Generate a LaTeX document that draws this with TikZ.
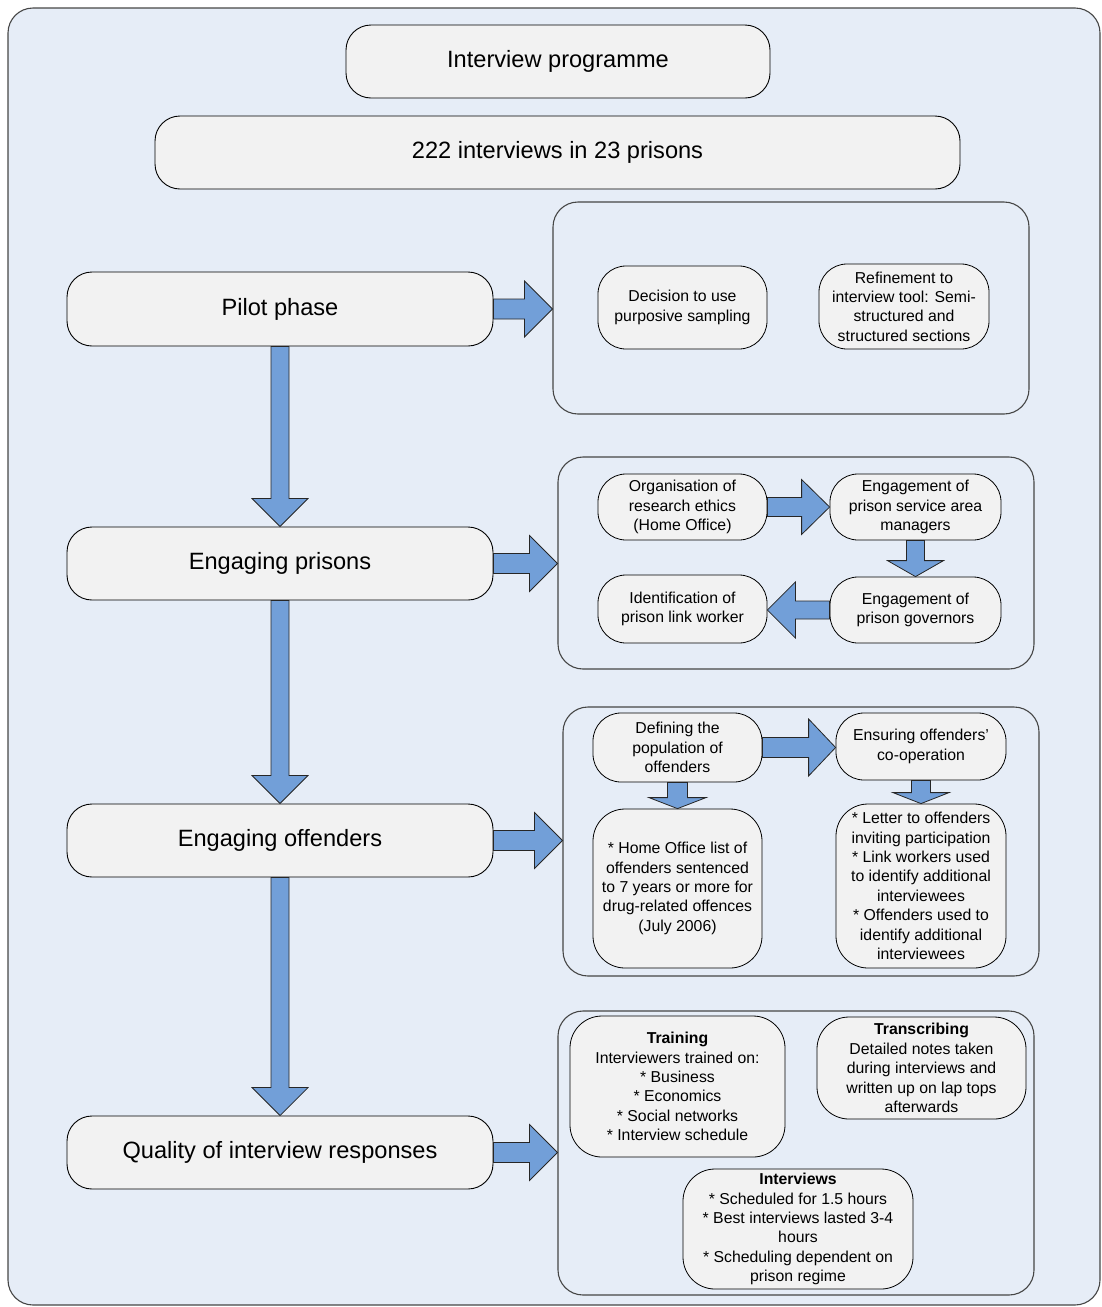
\documentclass[tikz,border=0pt]{standalone}
\usepackage{fontspec}
\setmainfont{Liberation Sans}
\usetikzlibrary{calc}

\definecolor{bgblue}{RGB}{230,237,247}
\definecolor{boxgray}{RGB}{242,242,242}
\definecolor{arrowblue}{RGB}{114,159,216}
\definecolor{edgegray}{RGB}{70,70,70}

\tikzset{
  stage/.style={draw=black, fill=boxgray, rounded corners=25pt, line width=0.9pt,
    inner sep=0pt, align=center, font=\fontsize{23.6}{28}\selectfont},
  panel/.style={draw=edgegray, rounded corners=25pt, line width=1.1pt, inner sep=0pt},
  item/.style={draw=black, fill=boxgray, rounded corners=28pt, line width=0.8pt,
    inner sep=0pt, align=center, font=\fontsize{15.8}{19.4}\selectfont},
  fatarrowstyle/.style={draw=black!85, fill=arrowblue, line width=0.8pt, line join=miter},
}

% block arrow: tail, tip, shaft half-width, head half-width, head length
\newcommand{\fatarrow}[5]{%
  \coordinate (fa-tail) at (#1);
  \coordinate (fa-tip) at (#2);
  \coordinate (fa-base) at ($(fa-tip)!#5!(fa-tail)$);
  \filldraw[fatarrowstyle]
    ($(fa-tail)!#3!90:(fa-tip)$) --
    ($(fa-base)!#3!90:(fa-tip)$) --
    ($(fa-base)!#4!90:(fa-tip)$) --
    (fa-tip) --
    ($(fa-base)!#4!-90:(fa-tip)$) --
    ($(fa-base)!#3!-90:(fa-tip)$) --
    ($(fa-tail)!#3!-90:(fa-tip)$) -- cycle;
}

\begin{document}
\begin{tikzpicture}[x=1pt, y=-1pt]
  \useasboundingbox (0,0) rectangle (1102,1307);
  % backdrop
  \path[draw=edgegray, fill=bgblue, line width=1.1pt, rounded corners=25pt]
    (8,8) rectangle (1100,1305);

  % headings
  \node[stage, minimum width=424pt, minimum height=73pt] (prog) at (558,61.5) {Interview programme};
  \node[stage, minimum width=805pt, minimum height=73pt] (count) at (557.5,152.5) {222 interviews in 23 prisons};

  % stages
  \node[stage, minimum width=426pt, minimum height=74pt] (pilot) at (280,309) {Pilot phase};
  \node[stage, minimum width=426pt, minimum height=73pt] (prisons) at (280,563.5) {Engaging prisons};
  \node[stage, minimum width=426pt, minimum height=73pt] (offenders) at (280,840.5) {Engaging offenders};
  \node[stage, minimum width=426pt, minimum height=73pt] (quality) at (280,1152.5) {Quality of interview responses};

  % panels
  \node[panel, minimum width=476pt, minimum height=212pt] (p1) at (791,308) {};
  \node[panel, minimum width=476pt, minimum height=212pt] (p2) at (796,563) {};
  \node[panel, minimum width=476pt, minimum height=269pt] (p3) at (801,841.5) {};
  \node[panel, minimum width=476pt, minimum height=284pt] (p4) at (796,1153) {};

  % pilot phase details
  \node[item, minimum width=169pt, minimum height=83pt] (decision) at (682.5,307.5)
    {Decision to use\\purposive sampling};
  \node[item, minimum width=170pt, minimum height=85pt] (refine) at (904,306.5)
    {Refinement to\\interview tool: Semi-\\structured and\\structured sections};

  % prison engagement details
  \node[item, minimum width=169pt, minimum height=66pt] (ethics) at (682.5,507)
    {Organisation of\\research ethics\\(Home Office)};
  \node[item, minimum width=171pt, minimum height=66pt] (areamgr) at (915.5,507)
    {Engagement of\\prison service area\\managers};
  \node[item, minimum width=169pt, minimum height=68pt] (linkw) at (682.5,609)
    {Identification of\\prison link worker};
  \node[item, minimum width=171pt, minimum height=66pt] (governors) at (915.5,610)
    {Engagement of\\prison governors};

  % offender engagement details
  \node[item, minimum width=169pt, minimum height=69pt] (define) at (677.5,747.5)
    {Defining the\\population of\\offenders};
  \node[item, minimum width=170pt, minimum height=67pt] (ensure) at (921,746.5)
    {Ensuring offenders'\\co-operation};
  \node[item, minimum width=169pt, minimum height=159pt, rounded corners=32pt] (holist) at (677.5,888.5)
    {* Home Office list of\\offenders sentenced\\to 7 years or more for\\drug-related offences\\(July 2006)};
  \node[item, minimum width=170pt, minimum height=164pt, rounded corners=32pt] (letter) at (921,886)
    {* Letter to offenders\\inviting participation\\* Link workers used\\to identify additional\\interviewees\\* Offenders used to\\identify additional\\interviewees};

  % interview quality details
  \node[item, minimum width=215pt, minimum height=141pt, rounded corners=32pt] (training) at (677.5,1086.5)
    {\textbf{Training}\\Interviewers trained on:\\* Business\\* Economics\\* Social networks\\* Interview schedule};
  \node[item, minimum width=209pt, minimum height=102pt, rounded corners=32pt] (transcr) at (921.5,1068)
    {\textbf{Transcribing}\\Detailed notes taken\\during interviews and\\written up on lap tops\\afterwards};
  \node[item, minimum width=230pt, minimum height=120pt, rounded corners=32pt] (intv) at (798,1229)
    {\textbf{Interviews}\\* Scheduled for 1.5 hours\\* Best interviews lasted 3-4\\hours\\* Scheduling dependent on\\prison regime};

  % flow between stages
  \fatarrow{pilot.south}{prisons.north}{9pt}{28pt}{28pt}
  \fatarrow{prisons.south}{offenders.north}{9pt}{28pt}{28pt}
  \fatarrow{offenders.south}{quality.north}{9pt}{28pt}{28pt}

  % stages to their panels
  \fatarrow{pilot.east}{pilot.east -| p1.west}{10pt}{28pt}{28pt}
  \fatarrow{prisons.east}{prisons.east -| p2.west}{10pt}{28pt}{28pt}
  \fatarrow{offenders.east}{offenders.east -| p3.west}{10pt}{28pt}{28pt}
  \fatarrow{quality.east}{quality.east -| p4.west}{10pt}{28pt}{28pt}

  % steps inside the panels
  \fatarrow{ethics.east}{ethics.east -| areamgr.west}{9.5pt}{27.5pt}{28pt}
  \fatarrow{areamgr.south}{areamgr.south |- governors.north}{9pt}{28pt}{16pt}
  \fatarrow{governors.west}{governors.west -| linkw.east}{9pt}{28pt}{28pt}
  \fatarrow{define.east}{define.east -| ensure.west}{10pt}{28.5pt}{27pt}
  \fatarrow{define.south}{define.south |- holist.north}{10pt}{28.5pt}{11pt}
  \fatarrow{ensure.south}{ensure.south |- letter.north}{9.5pt}{28pt}{11pt}
\end{tikzpicture}
\end{document}
